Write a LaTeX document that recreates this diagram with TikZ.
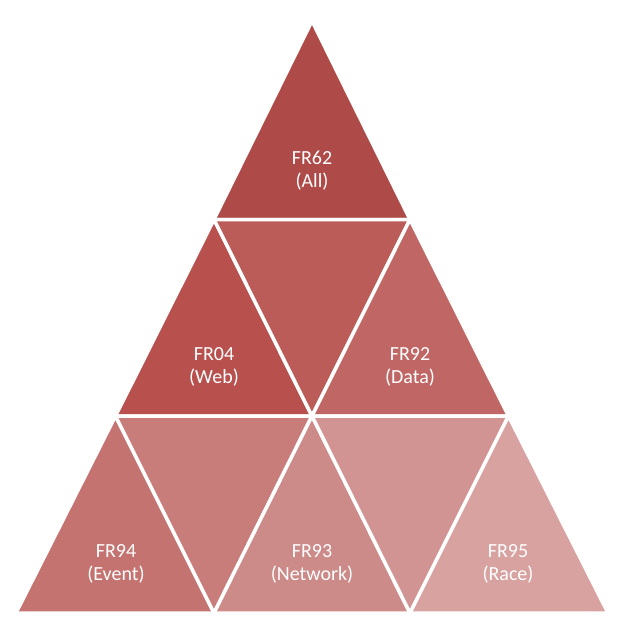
\documentclass[tikz,border=0pt]{standalone}
\usepackage{fontspec}
\setmainfont{Carlito}
\definecolor{c1}{RGB}{174,74,71}
\definecolor{c2}{RGB}{184,80,77}
\definecolor{c3}{RGB}{188,92,89}
\definecolor{c4}{RGB}{192,103,101}
\definecolor{c5}{RGB}{196,115,112}
\definecolor{c6}{RGB}{200,125,123}
\definecolor{c7}{RGB}{204,138,136}
\definecolor{c8}{RGB}{210,148,147}
\definecolor{c9}{RGB}{216,162,161}
\tikzset{
  tri/.style={draw=white, line width=3.5pt, line join=miter},
  lbl/.style={text=white, align=center, font=\fontsize{20}{23}\selectfont, inner sep=0pt}
}
\begin{document}
\begin{tikzpicture}[x=1pt,y=-1pt]
\useasboundingbox (0,0) rectangle (640,640);
% vertices
\coordinate (a0) at (312,21);
\coordinate (b0) at (214,219.5);
\coordinate (b1) at (410,219.5);
\coordinate (c0) at (115.5,416);
\coordinate (c1) at (312,416);
\coordinate (c2) at (508.5,416);
\coordinate (d0) at (16,613);
\coordinate (d1) at (214,613);
\coordinate (d2) at (410,613);
\coordinate (d3) at (608,613);
% row 1
\fill[c1, tri] (a0) -- (b1) -- (b0) -- cycle;
% row 2
\fill[c2, tri] (b0) -- (c1) -- (c0) -- cycle;
\fill[c3, tri] (b0) -- (b1) -- (c1) -- cycle;
\fill[c4, tri] (b1) -- (c2) -- (c1) -- cycle;
% row 3
\fill[c5, tri] (c0) -- (d1) -- (d0) -- cycle;
\fill[c6, tri] (c0) -- (c1) -- (d1) -- cycle;
\fill[c7, tri] (c1) -- (d2) -- (d1) -- cycle;
\fill[c8, tri] (c1) -- (c2) -- (d2) -- cycle;
\fill[c9, tri] (c2) -- (d3) -- (d2) -- cycle;
% labels
\node[lbl] (t62) at (312,171) {FR62\\(All)};
\node[lbl] (t04) at (214,367) {FR04\\(Web)};
\node[lbl] (t92) at (410,367) {FR92\\(Data)};
\node[lbl] (t94) at (116,564) {FR94\\(Event)};
\node[lbl] (t93) at (312,564) {FR93\\(Network)};
\node[lbl] (t95) at (508,564) {FR95\\(Race)};
\end{tikzpicture}
\end{document}
